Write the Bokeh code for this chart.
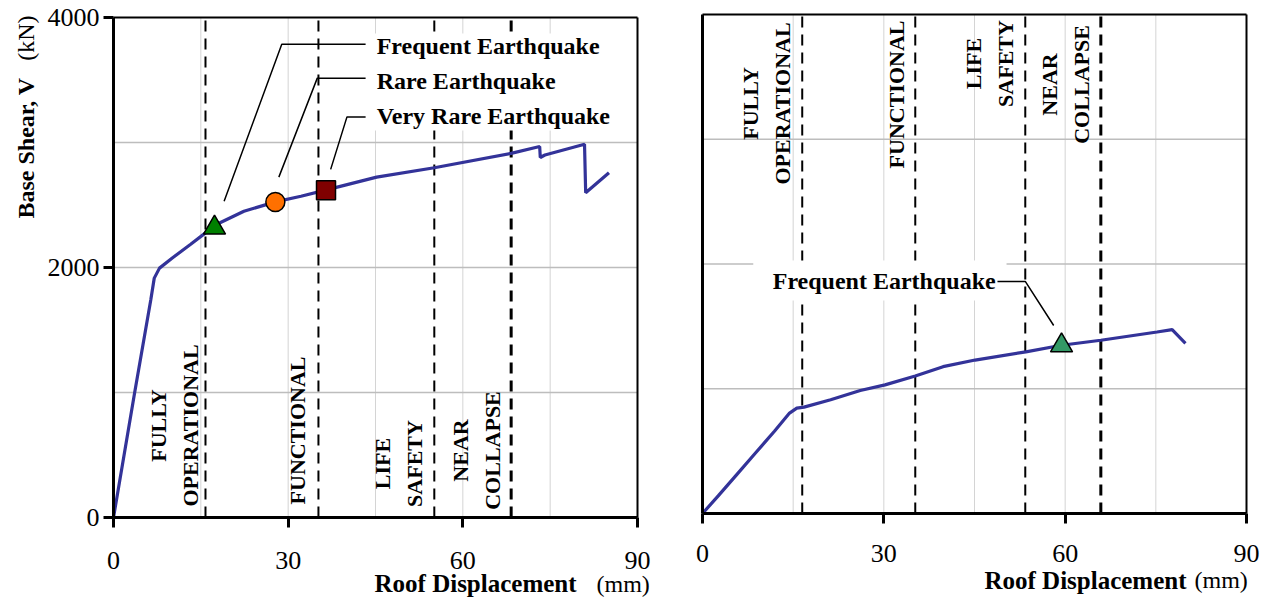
import numpy as np
from bokeh.plotting import figure
from bokeh.layouts import row
from bokeh.models import FixedTicker, Range1d, ColumnDataSource
from bokeh.core.properties import value
from bokeh.embed import file_html
from bokeh.resources import INLINE

# ---------------- data ----------------
left_disp = [0, 3.6, 6.4, 7.0, 7.9, 10.1, 13.2, 15.8, 17.4, 22.4, 27.8, 32.2, 36.4,
             45.2, 55.1, 68.3, 73.2, 73.3, 74.1, 80.9, 81.1, 85.1]
left_shear = [0, 990, 1740, 1915, 1995, 2076, 2184, 2277, 2338, 2450, 2525, 2570, 2619,
              2723, 2798, 2913, 2968, 2880, 2900, 2986, 2598, 2758]

right_disp = [0, 2.6, 5.7, 8.8, 11.9, 14.4, 15.6, 16.8, 21.2, 26.1, 30.2, 35.2, 39.8,
              45.1, 53.5, 59.4, 65.9, 75.2, 77.7, 79.9]
right_shear = [0, 141, 314, 487, 659, 805, 845, 853, 912, 986, 1031, 1102, 1177,
               1230, 1296, 1349, 1389, 1455, 1474, 1363]

x_ticks = [0, 30, 60, 90]
y_ticks = [0, 2000, 4000]
x_grid = [15, 30, 45, 60, 75]
y_grid = [1000, 2000, 3000]
X_MAX = 90
Y_MAX = 4000

limit_names = ["FULLY\nOPERATIONAL", "FUNCTIONAL", "LIFE\nSAFETY", "NEAR\nCOLLAPSE"]
left_limits = [15.8, 35.2, 55.1, 68.3]
right_limits = [16.5, 35.2, 53.4, 65.9]
limit_widths = [2, 2, 2, 3]
left_name_x = [10.5, 31.6, 48.9, 62.3]
left_name_y = [736, 696, 432, 536]
right_name_x = [10.6, 32.1, 47.5, 60.1]
right_name_y = [3287, 3359, 3607, 3439]

eq_names = ["Frequent Earthquake", "Rare Earthquake", "Very Rare Earthquake"]
eq_disp = [17.35, 27.8, 36.5]
eq_shear = [2318, 2524, 2618]
eq_label_x = [45.2, 45.2, 45.2]
eq_label_y = [3776, 3494, 3213]
eq_leader_xs = [[19.0, 28.9, 43.3], [28.4, 35.0, 43.3], [37.3, 40.1, 43.3]]
eq_leader_ys = [[2530, 3786, 3786], [2723, 3515, 3515], [2785, 3205, 3205]]

r_eq_name = "Frequent Earthquake"
r_eq_disp = [59.4]
r_eq_shear = [1347]
r_leader_x = [48.8, 53.4, 58.1]
r_leader_y = [1860, 1860, 1507]
r_label_x = 48.5
r_label_y = 1860

x_title = "Roof Displacement"
x_unit = "(mm)"
y_title = "Base Shear, V"
y_unit = "(kN)"

SERIF = "Liberation Serif"
CURVE = "#333399"
H = 598


def make_fig(width, x0px, x90px, y0px, ytopx):
    sx = (x90px - x0px) / X_MAX
    sy = (y0px - ytopx) / Y_MAX
    xr = Range1d(-x0px / sx, (width - x0px) / sx)
    yr = Range1d(-(H - y0px) / sy, Y_MAX + ytopx / sy)
    p = figure(width=width, height=H, x_range=xr, y_range=yr,
               output_backend="svg", toolbar_location=None, min_border=0)
    p.background_fill_color = "white"
    p.border_fill_color = "white"
    p.outline_line_color = None
    p.xgrid.visible = False
    p.ygrid.visible = False
    # grid lines restricted to the plotting box
    p.segment(x0=x_grid, y0=[0] * len(x_grid), x1=x_grid, y1=[Y_MAX] * len(x_grid),
              line_color="#d4d4d4", line_width=1)
    p.segment(x0=[0] * len(y_grid), y0=y_grid, x1=[X_MAX] * len(y_grid), y1=y_grid,
              line_color="#bdbdbd", line_width=1.5)
    # top and right border of the plotting box
    p.segment(x0=[0, X_MAX], y0=[Y_MAX, 0], x1=[X_MAX, X_MAX], y1=[Y_MAX, Y_MAX],
              line_color="black", line_width=2)
    p.xaxis.ticker = FixedTicker(ticks=x_ticks)
    p.xaxis.fixed_location = 0
    p.xaxis.bounds = (0, X_MAX)
    p.yaxis.fixed_location = 0
    p.yaxis.bounds = (0, Y_MAX)
    for ax in (p.xaxis, p.yaxis):
        ax.axis_line_width = 3
        ax.axis_line_color = "black"
        ax.major_tick_line_width = 3
        ax.major_tick_line_color = "black"
        ax.major_tick_in = 0
        ax.major_tick_out = 10
        ax.minor_tick_line_color = None
        ax.major_label_text_font = SERIF
        ax.major_label_text_font_size = "26px"
        ax.major_label_text_color = "black"
    p.xaxis.major_label_standoff = 24
    return p


def add_limits(p, limits):
    src = ColumnDataSource(dict(x=limits, y0=[0] * 4, y1=[Y_MAX] * 4, w=limit_widths))
    p.segment(x0="x", y0="y0", x1="x", y1="y1", source=src, line_color="black",
              line_width="w", line_dash="11 7")


def add_names(p, name_x, name_y):
    p.text(x=name_x, y=name_y, text=limit_names, angle=np.pi / 2,
           text_align="center", text_baseline="middle",
           text_font=value(SERIF), text_font_style="bold", text_font_size="22px",
           text_line_height=1.27, text_color="black")


def add_text(p, x, y, text, bold, align, angle=0.0, size="25px"):
    p.text(x=[x], y=[y], text=[text], angle=angle, text_align=align, text_baseline="middle",
           text_font=value(SERIF), text_font_style="bold" if bold else "normal",
           text_font_size=size, text_color="black")


# ---------------- left chart ----------------
p1 = make_fig(660, 113, 637, 517, 17)
p1.yaxis.ticker = FixedTicker(ticks=y_ticks)
p1.yaxis.major_label_standoff = 4
add_limits(p1, left_limits)
p1.quad(left=[44.3], right=[87.6], bottom=[3096], top=[3872], fill_color="white", line_color=None)
p1.line(left_disp, left_shear, line_color=CURVE, line_width=3.2)
add_names(p1, left_name_x, left_name_y)
p1.multi_line(xs=eq_leader_xs, ys=eq_leader_ys, line_color="black", line_width=1.5)
p1.text(x=eq_label_x, y=eq_label_y, text=eq_names, text_align="left", text_baseline="middle",
        text_font=value(SERIF), text_font_style="bold", text_font_size="24px", text_color="black")
p1.scatter([eq_disp[0]], [eq_shear[0]], marker="triangle", size=22, fill_color="#008000",
           line_color="black", line_width=1.5)
p1.scatter([eq_disp[1]], [eq_shear[1]], marker="circle", size=19, fill_color="#ff7000",
           line_color="black", line_width=1.5)
p1.scatter([eq_disp[2]], [eq_shear[2]], marker="square", size=19, fill_color="#800000",
           line_color="black", line_width=1.5)
add_text(p1, 44.83, -528, x_title, True, "left", size="25px")
add_text(p1, 82.96, -528, x_unit, False, "left", size="24px")
add_text(p1, -15.1, 2392, y_title, True, "left", angle=np.pi / 2, size="24px")
add_text(p1, -15.1, 4016, y_unit, False, "right", angle=np.pi / 2, size="24px")

# ---------------- right chart ----------------
p2 = make_fig(608, 42, 586, 513, 14)
p2.yaxis.ticker = FixedTicker(ticks=[])
p2.yaxis.major_tick_out = 0
p2.xaxis.major_label_standoff = 21
add_limits(p2, right_limits)
p2.quad(left=[8.4], right=[50.3], bottom=[1707], top=[2028], fill_color="white", line_color=None)
p2.line(right_disp, right_shear, line_color=CURVE, line_width=3.2)
add_names(p2, right_name_x, right_name_y)
p2.line(r_leader_x, r_leader_y, line_color="black", line_width=1.5)
p2.text(x=[r_label_x], y=[r_label_y], text=[r_eq_name], text_align="right", text_baseline="middle",
        text_font=value(SERIF), text_font_style="bold", text_font_size="24px", text_color="black")
p2.scatter(r_eq_disp, r_eq_shear, marker="triangle", size=22, fill_color="#339966",
           line_color="black", line_width=1.5)
add_text(p2, 46.65, -537, x_title, True, "left", size="25px")
add_text(p2, 81.4, -537, x_unit, False, "left", size="24px")

layout = row(p1, p2)
open("out.html", "w").write(file_html(layout, INLINE))
